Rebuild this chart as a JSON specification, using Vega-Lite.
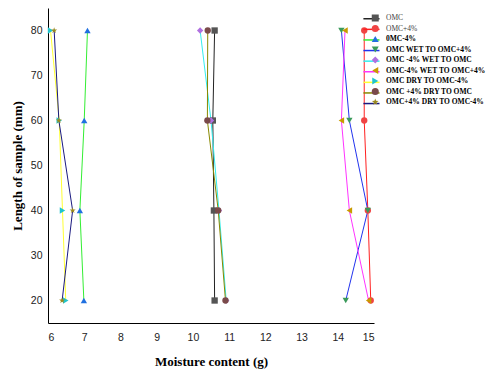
{
  "$schema": "https://vega.github.io/schema/vega-lite/v6.json",
  "width": 326,
  "height": 315,
  "autosize": {"type": "none"},
  "padding": {"left": 48, "top": 8, "right": 114, "bottom": 49},
  "background": "white",
  "config": {
    "view": {"stroke": null},
    "axis": {
      "grid": false,
      "ticks": false,
      "domainColor": "#000",
      "domainWidth": 1,
      "labelFont": "Liberation Sans",
      "labelFontSize": 10.5,
      "labelColor": "#222",
      "titleFont": "Liberation Serif",
      "titleFontSize": 13,
      "titleFontWeight": "bold",
      "titleColor": "#000"
    }
  },
  "data": {
    "values": [
      {"series": "OMC", "ord": 1, "x": 10.6, "y": 80},
      {"series": "OMC", "ord": 1, "x": 10.55, "y": 60},
      {"series": "OMC", "ord": 1, "x": 10.58, "y": 40},
      {"series": "OMC", "ord": 1, "x": 10.6, "y": 20},
      {"series": "OMC+4%", "ord": 2, "x": 14.73, "y": 80},
      {"series": "OMC+4%", "ord": 2, "x": 14.73, "y": 60},
      {"series": "OMC+4%", "ord": 2, "x": 14.83, "y": 40},
      {"series": "OMC+4%", "ord": 2, "x": 14.91, "y": 20},
      {"series": "0MC-4%", "ord": 3, "x": 7.09, "y": 80},
      {"series": "0MC-4%", "ord": 3, "x": 7.0, "y": 60},
      {"series": "0MC-4%", "ord": 3, "x": 6.88, "y": 40},
      {"series": "0MC-4%", "ord": 3, "x": 6.99, "y": 20},
      {"series": "OMC WET TO OMC+4%", "ord": 4, "x": 14.1, "y": 80},
      {"series": "OMC WET TO OMC+4%", "ord": 4, "x": 14.32, "y": 60},
      {"series": "OMC WET TO OMC+4%", "ord": 4, "x": 14.83, "y": 40},
      {"series": "OMC WET TO OMC+4%", "ord": 4, "x": 14.22, "y": 20},
      {"series": "OMC -4% WET TO OMC", "ord": 5, "x": 10.2, "y": 80},
      {"series": "OMC -4% WET TO OMC", "ord": 5, "x": 10.5, "y": 60},
      {"series": "OMC -4% WET TO OMC", "ord": 5, "x": 10.72, "y": 40},
      {"series": "OMC -4% WET TO OMC", "ord": 5, "x": 10.92, "y": 20},
      {"series": "OMC-4%  WET TO OMC+4%", "ord": 6, "x": 14.2, "y": 80},
      {"series": "OMC-4%  WET TO OMC+4%", "ord": 6, "x": 14.1, "y": 60},
      {"series": "OMC-4%  WET TO OMC+4%", "ord": 6, "x": 14.32, "y": 40},
      {"series": "OMC-4%  WET TO OMC+4%", "ord": 6, "x": 14.85, "y": 20},
      {"series": "OMC DRY TO OMC-4%", "ord": 7, "x": 6.07, "y": 80},
      {"series": "OMC DRY TO OMC-4%", "ord": 7, "x": 6.31, "y": 60},
      {"series": "OMC DRY TO OMC-4%", "ord": 7, "x": 6.4, "y": 40},
      {"series": "OMC DRY TO OMC-4%", "ord": 7, "x": 6.49, "y": 20},
      {"series": "OMC +4%  DRY TO OMC", "ord": 8, "x": 10.41, "y": 80},
      {"series": "OMC +4%  DRY TO OMC", "ord": 8, "x": 10.4, "y": 60},
      {"series": "OMC +4%  DRY TO OMC", "ord": 8, "x": 10.7, "y": 40},
      {"series": "OMC +4%  DRY TO OMC", "ord": 8, "x": 10.9, "y": 20},
      {"series": "OMC+4%  DRY TO OMC-4%", "ord": 9, "x": 6.17, "y": 80},
      {"series": "OMC+4%  DRY TO OMC-4%", "ord": 9, "x": 6.3, "y": 60},
      {"series": "OMC+4%  DRY TO OMC-4%", "ord": 9, "x": 6.68, "y": 40},
      {"series": "OMC+4%  DRY TO OMC-4%", "ord": 9, "x": 6.39, "y": 20}
    ]
  },
  "encoding": {
    "x": {
      "field": "x", "type": "quantitative",
      "scale": {"domain": [6, 15], "nice": false, "zero": false},
      "axis": {"values": [6, 7, 8, 9, 10, 11, 12, 13, 14, 15], "labelPadding": 9, "title": "Moisture content (g)", "titlePadding": 13}
    },
    "y": {
      "field": "y", "type": "quantitative",
      "scale": {"domain": [15, 85], "nice": false, "zero": false},
      "axis": {"values": [20, 30, 40, 50, 60, 70, 80], "labelPadding": 6, "title": "Length of  sample (mm)", "titlePadding": 6}
    }
  },
  "layer": [
    {
      "mark": {"type": "line", "strokeWidth": 1},
      "encoding": {
        "order": {"field": "y", "type": "quantitative"},
        "stroke": {
          "field": "series", "type": "nominal",
          "sort": {"field": "ord", "op": "min"},
          "scale": {"range": ["#222222", "#ff2020", "#33ee33", "#2233ee", "#33eeee", "#ff33ff", "#ffff33", "#888800", "#1a1a80"]},
          "legend": {
            "orient": "none", "legendX": 318.95, "legendY": 6.25, "title": null,
            "symbolType": "M-2.3,0L2.3,0", "symbolSize": 49, "symbolStrokeWidth": 1.5,
            "padding": 0, "rowPadding": 2.6, "labelOffset": 5,
            "labelFont": "Liberation Serif", "labelFontSize": 7.5, "labelExpr": "''"
          }
        }
      }
    },
    {
      "mark": {"type": "point", "filled": true, "size": 40, "opacity": 1},
      "encoding": {
        "fill": {
          "field": "series", "type": "nominal",
          "scale": {
            "domain": ["OMC", "OMC+4%", "0MC-4%", "OMC WET TO OMC+4%", "OMC -4% WET TO OMC", "OMC-4%  WET TO OMC+4%", "OMC DRY TO OMC-4%", "OMC +4%  DRY TO OMC", "OMC+4%  DRY TO OMC-4%"],
            "range": ["#555555", "#f04444", "#2070e0", "#3a9a5a", "#b070e0", "#c89a00", "#20c4cc", "#7a4a4a", "#9a8a20"]
          },
          "legend": {
            "orient": "none", "legendX": 323.5, "legendY": 6.25, "title": null,
            "symbolSize": 49, "symbolStrokeWidth": 0,
            "padding": 0, "rowPadding": 1.5, "labelOffset": 7,
            "labelFont": "Liberation Serif", "labelFontSize": 7.5, "labelLimit": 200,
            "labelFontWeight": {"expr": "datum.label === 'OMC' || datum.label === 'OMC+4%' ? 'normal' : 'bold'"},
            "labelColor": {"expr": "datum.label === 'OMC' || datum.label === 'OMC+4%' ? '#444' : '#000'"}
          }
        },
        "shape": {
          "field": "series", "type": "nominal",
          "scale": {
            "domain": ["OMC", "OMC+4%", "0MC-4%", "OMC WET TO OMC+4%", "OMC -4% WET TO OMC", "OMC-4%  WET TO OMC+4%", "OMC DRY TO OMC-4%", "OMC +4%  DRY TO OMC", "OMC+4%  DRY TO OMC-4%"],
            "range": ["square", "circle", "triangle-up", "triangle-down", "diamond", "triangle-left", "triangle-right", "circle", "M0,-1L0.235,-0.324L0.951,-0.309L0.38,0.124L0.588,0.809L0,0.4L-0.588,0.809L-0.38,0.124L-0.951,-0.309L-0.235,-0.324Z"]
          },
          "legend": {
            "orient": "none", "legendX": 323.5, "legendY": 6.25, "title": null,
            "symbolSize": 49, "symbolStrokeWidth": 0,
            "padding": 0, "rowPadding": 1.5, "labelOffset": 7,
            "labelFont": "Liberation Serif", "labelFontSize": 7.5, "labelLimit": 200,
            "labelFontWeight": {"expr": "datum.label === 'OMC' || datum.label === 'OMC+4%' ? 'normal' : 'bold'"},
            "labelColor": {"expr": "datum.label === 'OMC' || datum.label === 'OMC+4%' ? '#444' : '#000'"}
          }
        }
      }
    }
  ]
}
